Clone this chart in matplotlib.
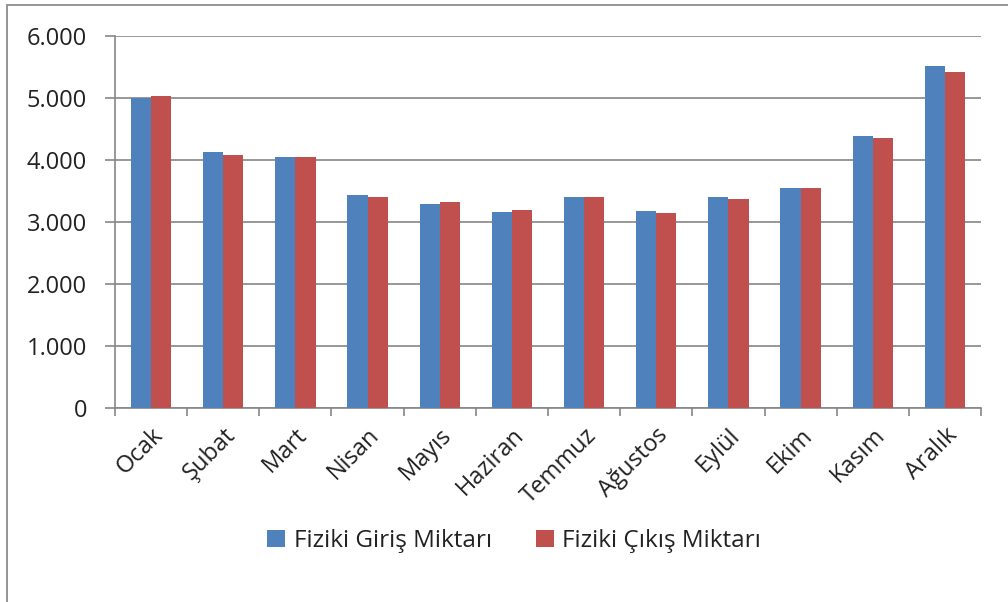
import matplotlib
matplotlib.use("Agg")
import matplotlib.pyplot as plt
import numpy as np
from matplotlib.patches import Rectangle
from matplotlib.ticker import FuncFormatter

plt.rcParams['font.family'] = ['Open Sans', 'DejaVu Sans']

months = ["Ocak", "Şubat", "Mart", "Nisan", "Mayıs", "Haziran", "Temmuz",
          "Ağustos", "Eylül", "Ekim", "Kasım", "Aralık"]
giris = [5000, 4130, 4055, 3430, 3290, 3160, 3400, 3185, 3405, 3545, 4380, 5520]
cikis = [5040, 4080, 4055, 3400, 3325, 3190, 3400, 3150, 3375, 3545, 4350, 5415]
series_names = ["Fiziki Giriş Miktarı", "Fiziki Çıkış Miktarı"]
colors = ["#4F81BD", "#C0504D"]

W, H = 1008, 602
fig = plt.figure(figsize=(W / 100, H / 100), dpi=100)
ax = fig.add_axes([115 / W, 1 - 408 / H, (981 - 115) / W, (408 - 36) / H])

x = np.arange(len(months))
bw = 0.28
ax.bar(x - bw / 2, giris, bw, color=colors[0], label=series_names[0], zorder=3)
ax.bar(x + bw / 2, cikis, bw, color=colors[1], label=series_names[1], zorder=3)

ax.set_xlim(-0.5, len(months) - 0.5)
ax.set_ylim(0, 6000)
ax.set_yticks(np.arange(0, 6001, 1000))
ax.yaxis.set_major_formatter(FuncFormatter(lambda v, p: f"{int(v):,}".replace(",", ".")))
ax.yaxis.grid(True, color="#868686", linewidth=1.2, zorder=0)
ax.set_axisbelow(True)

ax.set_xticks(x)
ax.set_xticklabels(months, rotation=45, ha="right", rotation_mode="anchor", fontsize=17, color="#222222")
ax.set_xticks(np.arange(-0.5, len(months), 1), minor=True)
ax.tick_params(axis="x", which="major", length=0, pad=11)
ax.tick_params(axis="x", which="minor", length=6, color="#868686", width=1.2)
ax.tick_params(axis="y", length=7, color="#868686", width=1.2, labelsize=17, labelcolor="#222222", pad=13)

for s in ["top", "right"]:
    ax.spines[s].set_visible(False)
for s in ["left", "bottom"]:
    ax.spines[s].set_color("#868686")
    ax.spines[s].set_linewidth(1.2)

leg = fig.legend(loc="center", bbox_to_anchor=(514 / W, 1 - 541 / H), ncol=2, frameon=False,
                 fontsize=17.5, handlelength=0.75, handleheight=0.75, handletextpad=0.35,
                 columnspacing=1.8)
for t in leg.get_texts():
    t.set_color("#222222")

# outer chart border (left and top visible)
fig.patches.append(Rectangle((7 / W, -0.1), 1.2, 1 - 5 / H + 0.1, transform=fig.transFigure,
                             fill=False, edgecolor="#8c8c8c", linewidth=1.3))

fig.savefig("out.png", dpi=100)
